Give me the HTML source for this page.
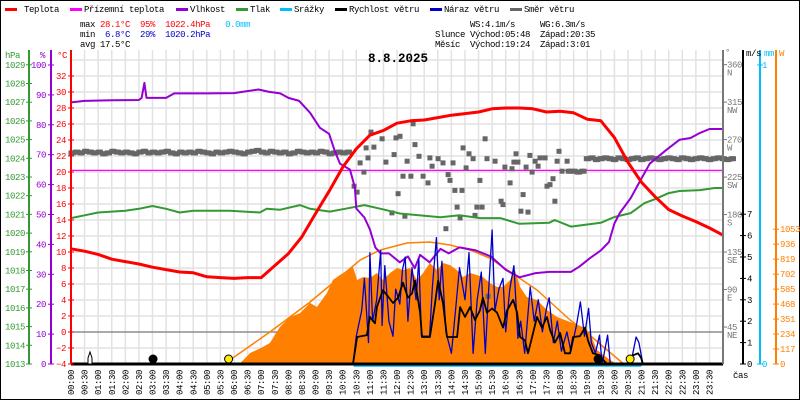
<!DOCTYPE html>
<html><head><meta charset="utf-8"><style>
html,body{margin:0;padding:0;background:#fff}
svg{display:block}
text{font-family:"Liberation Mono",monospace;font-size:9px;letter-spacing:-0.4px}
.pre{white-space:pre}
</style></head><body>
<svg id="chart" width="800" height="400" viewBox="0 0 800 400" xmlns="http://www.w3.org/2000/svg">
<rect x="0.5" y="0.5" width="799" height="399" fill="#fff" stroke="#000"/>
<g id="grid"></g>
<g id="series"></g>
<g id="axes"></g>
<g id="legend">
 <rect x="5" y="8" width="12" height="3" fill="#ff0000"/><text x="24" y="12">Teplota</text>
 <rect x="70" y="8" width="12" height="3" fill="#ff00ff"/><text x="84" y="12">Přízemní teplota</text>
 <rect x="176" y="8" width="12" height="3" fill="#9400d3"/><text x="190" y="12">Vlhkost</text>
 <rect x="236" y="8" width="12" height="3" fill="#339933"/><text x="250" y="12">Tlak</text>
 <rect x="280" y="8" width="12" height="3" fill="#00bfff"/><text x="294" y="12">Srážky</text>
 <rect x="335" y="8" width="12" height="3" fill="#000"/><text x="349" y="12">Rychlost větru</text>
 <rect x="430" y="8" width="12" height="3" fill="#0000cc"/><text x="444" y="12">Náraz větru</text>
 <rect x="510" y="8" width="12" height="3" fill="#666"/><text x="524" y="12">Směr větru</text>
</g>
<g>
 <text class="pre" x="80" y="27">max <tspan fill="#ff0000">28.1°C</tspan>  <tspan fill="#ff0000">95%</tspan>  <tspan fill="#ff0000">1022.4hPa</tspan>   <tspan fill="#00bfff">0.0mm</tspan></text>
 <text class="pre" x="80" y="37">min  <tspan fill="#0000cc">6.8°C</tspan>  <tspan fill="#0000cc">29%</tspan>  <tspan fill="#0000cc">1020.2hPa</tspan></text>
 <text class="pre" x="80" y="47">avg 17.5°C</text>
 <text class="pre" x="470" y="27">WS:4.1m/s     WG:6.3m/s</text>
 <text class="pre" x="435" y="37">Slunce Východ:05:48  Západ:20:35</text>
 <text class="pre" x="435" y="47">Měsíc  Východ:19:24  Západ:3:01</text>
</g>
<text x="398" y="62" text-anchor="middle" style="font-size:12.5px;font-weight:bold;letter-spacing:0">8.8.2025</text>
</svg>
<script>
// ---- data ----
const tempValues=[10.4,10.1,9.7,9.1,8.8,8.5,8.1,7.8,7.5,7.4,6.9,6.8,6.7,6.8,6.8,8.3,9.8,11.9,14.8,17.6,20.6,22.9,24.6,25.2,26.1,26.4,26.5,26.8,27.1,27.3,27.5,27.9,28.0,28.0,27.9,27.5,27.6,27.4,26.6,26.4,24.3,21.2,18.7,16.9,15.3,14.5,13.8,13.0,12.1];
const groundTemp=20.2;
const humTimes=[0,0.5,1.5,2.5,2.6,2.7,2.78,3.5,3.8,5.0,6.0,6.3,6.9,7.3,7.7,8.0,8.4,8.8,9.16,9.5,9.7,9.9,10.27,10.45,10.5,10.8,11,11.2,11.4,11.7,12.1,12.4,12.65,12.85,13.2,13.6,13.9,14.3,14.9,15.45,16.0,16.5,17.1,17.6,18.4,18.7,19.1,19.5,19.8,20.0,20.2,20.6,20.9,21.3,21.9,22.4,22.8,23.15,23.5,24];
const humValues=[87.5,88,88.2,88.3,89,94,89,89,90.5,90.5,90.6,91,91.8,91,90.5,89,88,84,79,77,71.5,67,65,59,52,49,45,39,37,37,34,36,32,36.5,34,38.5,37,39,38,36,31.5,29,30.4,30.8,30.8,32.5,35.4,38,40.8,47,50.5,55.5,60.5,67,71.5,75,75.6,77.3,78.6,78.6];
const presTimes=[0,0.5,1,1.5,2,2.5,3,3.5,4,4.5,5,5.85,6.95,7.2,7.7,8.43,8.8,9.53,10.08,10.8,11.4,12.1,13.6,14.3,15.05,15.8,16.5,17.6,17.8,18.4,19.5,20.0,20.6,21.1,21.5,22.0,22.4,23.15,23.7,24];
const presValues=[1020.8,1020.95,1021.1,1021.15,1021.2,1021.3,1021.45,1021.3,1021.1,1021.2,1021.2,1021.2,1021.1,1021.3,1021.25,1021.5,1021.3,1021.15,1021.3,1021.5,1021.3,1021.05,1020.85,1020.95,1020.8,1020.8,1020.5,1020.55,1020.7,1020.35,1020.55,1020.86,1021.07,1021.6,1021.82,1022.14,1022.25,1022.3,1022.41,1022.41];
const solarTimes=[5.85,6.22,6.59,6.99,7.32,7.69,8.06,8.43,8.8,9.05,9.42,9.64,9.9,10.38,10.53,10.75,11,11.26,11.48,11.74,12,12.22,12.48,12.73,12.96,13.21,13.47,13.69,13.95,14.2,14.43,14.69,14.94,15.16,15.42,15.68,15.9,16.16,16.34,16.53,16.78,17.15,17.52,17.89,18.37,18.84,19.1,19.36,19.84,20.1];
const solarValues=[0,5,86,125,164,289,367,398,477,445,555,656,695,758,656,680,672,711,656,711,750,734,750,656,711,789,734,789,773,734,680,711,695,680,633,602,602,656,734,602,523,500,422,367,328,289,242,109,31,0];
const theoTimes=[5.8,5.85,7.32,8.8,9.9,10.64,11.37,12.37,13.2,13.95,14.7,15.4,15.9,17.15,18.37,19.0,19.6,20.3,20.58];
const theoValues=[0,31,250,484,680,812,890,945,953,930,890,828,758,578,344,242,133,8,0];
const windTimes=[0,10.38,10.53,10.89,11.0,11.19,11.26,11.48,11.67,11.85,12.04,12.22,12.4,12.55,12.66,12.85,12.92,13.21,13.4,13.51,13.69,13.84,14.21,14.32,14.5,14.69,14.87,15.05,15.16,15.31,15.5,15.68,15.9,16.05,16.27,16.42,16.53,16.71,16.82,16.97,17.15,17.33,17.52,17.63,17.81,18.0,18.18,18.37,18.48,18.73,18.92,19.03,19.21,19.47,19.58,19.73,20.57,20.68,20.87,20.98,21.05,24];
const windValues=[0,0,1.26,1.35,2.2,1.9,2.66,3.45,3.15,2.85,3.1,3.8,3.1,3.3,3.9,2.4,1.26,1.26,2.85,3.9,2.85,1.26,1.26,2.66,2.2,2.66,2.05,2.5,3.1,2.4,2.6,2.4,1.7,2.5,3.0,2.4,1.26,1.1,0.5,1.26,2.2,1.7,2.2,1.6,1.0,1.45,0.5,0.5,1.26,1.3,1.7,1.1,0.5,0.4,0.2,0,0,0.4,0.5,0.3,0,0];
const gustTimes=[0,10.38,10.5,10.7,10.8,10.95,11.0,11.1,11.25,11.4,11.45,11.55,11.7,11.85,11.95,12.1,12.2,12.3,12.4,12.55,12.7,12.8,12.9,13.2,13.3,13.45,13.55,13.65,13.8,14.0,14.15,14.3,14.5,14.65,14.8,14.95,15.1,15.25,15.35,15.5,15.6,15.75,15.9,16.0,16.15,16.3,16.45,16.55,16.7,16.9,17.05,17.2,17.35,17.5,17.6,17.75,17.9,18.05,18.25,18.4,18.6,18.75,18.9,19.05,19.15,19.3,19.45,19.55,19.75,19.85,20.6,20.8,20.9,21.05,24];
const gustValues=[0,0,1.3,2.5,4.0,1.0,5.2,2.0,3.0,5.3,1.8,4.6,2.0,1.3,3.5,2.8,4.4,5.0,2.0,4.5,3.0,4.9,1.3,1.3,3.6,5.9,3.0,4.8,1.5,0.5,2.5,4.5,3.0,5.2,0.5,3.0,4.3,0.5,3.0,6.26,2.5,3.5,4.0,1.5,3.5,4.6,1.2,2.0,0.5,3.6,2.0,3.0,1.5,2.6,3.1,1.0,2.0,0.6,1.5,0.6,1.8,2.9,1.3,2.6,1.0,0.5,1.35,0,1.35,0,0,1.26,1.0,0,0];
const dirBand1Start=0, dirBand1Values=[254,255,254,256,255,254,255,253,254,256,255,254,255,254,253,255,256,254,255,254,255,256,254,253,255,254,255,254,256,255,254,253,255,254,255,256,255,254,253,255,256,257,255,254,256,255,254,255,253,254,256,255,254,255,254,256,255,253,254,255,254,255];
const dirBand2Start=18.3, dirBand2Values=[232,232,231,232,247,248,246,247,248,247,246,248,247,246,247,248,246,247,248,247,246,247,248,247,246,248,247,246,247,248,247,246,247,248,247,246,247];
const dirTimes=[11.04,10.86,11.15,11.45,11.96,12.11,12.59,12.66,11.89,11.59,10.64,10.93,12.37,12.81,13.21,13.51,13.69,14.06,13.29,14.54,14.43,14.65,15.24,15.31,10.78,10.42,10.53,12.22,12.51,12.96,13.14,13.88,13.95,12.04,14.13,14.39,15.05,14.21,14.32,14.94,15.13,14.87,13.8,11.81,12.29,14.8,15.61,15.97,16.23,16.38,16.3,16.45,16.75,16.89,16.97,17.08,17.19,17.26,17.45,17.96,17.89,18.26,18.07,16.16,17.74,17.63,17.52,16.64,15.83,15.9,17.81,16.56,16.82,15.35];
const dirValues=[279,260,261,271,272,274,289,264,252,243,242,248,244,250,248,247,242,242,238,236,260,253,271,247,231,214,207,226,226,226,218,228,221,205,209,209,221,189,176,189,189,179,163,182,178,247,244,237,235,253,243,243,237,251,231,244,238,248,248,256,244,244,232,218,223,216,214,204,196,192,196,184,183,82];
const pressTicks=[1013,1014,1015,1016,1017,1018,1019,1020,1021,1022,1023,1024,1025,1026,1027,1028,1029];
const humTicks=[0,10,20,30,40,50,60,70,80,90,100];
const tempTicks=[-4,-2,0,2,4,6,8,10,12,14,16,18,20,22,24,26,28,30,32];
const dirTicks=[45,90,135,180,225,270,315,360];
const dirNames=["NE","E","SE","S","SW","W","NW","N"];
const windTicks=[0,1,2,3,4,5,6,7];
const solarTicks=[0,117,234,351,468,585,702,819,936,1053];

// ---- scales ----
const xH=h=>71+h*27.17;
const yT=t=>364-(t+4)*8;
const yHum=v=>364-v*2.99;
const yP=p=>364-(p-1013)*18.7;
const yDir=d=>364.5-d*0.833;
const yWind=v=>364-v*21.4;
const yW=w=>364-w*0.128;

const NS="http://www.w3.org/2000/svg";
function mk(parent,tag,attrs){const e=document.createElementNS(NS,tag);for(const k in attrs)e.setAttribute(k,attrs[k]);parent.appendChild(e);return e;}
const grid=document.getElementById('grid'),series=document.getElementById('series'),axes=document.getElementById('axes');

for(let i=1;i<=48;i++){const x=xH(i/2);const l=mk(grid,'line',{x1:x,y1:50,x2:x,y2:364,stroke:'#e2e2e2','stroke-width':1.5});

}
for(let t=-2;t<=34;t+=2){const y=yT(t);const l=mk(grid,'line',{x1:71,y1:y,x2:723,y2:y,stroke:t===0?'#777':'#e2e2e2','stroke-width':t===0?1.2:1.5});

}

{let d='M'+xH(solarTimes[0])+',364 ';solarTimes.forEach((t,i)=>{d+='L'+xH(t).toFixed(1)+','+yW(solarValues[i]).toFixed(1)+' ';});d+='L'+xH(solarTimes[solarTimes.length-1])+',364 Z';
const p=mk(series,'path',{d:d,fill:'#ff8000'});

}
function line(times,vals,fy,color,w,name){const pts=times.map((t,i)=>xH(t).toFixed(1)+','+fy(vals[i]).toFixed(1)).join(' ');
const p=mk(series,'polyline',{points:pts,fill:'none',stroke:color,'stroke-width':w,'stroke-linejoin':'round'});

return p;}
line(theoTimes,theoValues,yW,'#ff8000',1.5,'theoretical-solar-line');
{const l=mk(series,'line',{x1:71,y1:yT(groundTemp),x2:723,y2:yT(groundTemp),stroke:'#ff00ff','stroke-width':1.3});

}
function sq(h,d){const r=mk(series,'rect',{x:(xH(h)-2.5).toFixed(1),y:(yDir(d)-2.5).toFixed(1),width:5,height:5,fill:'#666'});

}
dirBand1Values.forEach((d,i)=>{sq(dirBand1Start+i/6,d);sq(dirBand1Start+i/6+1/12,d);});
dirBand2Values.forEach((d,i)=>{sq(dirBand2Start+i/6,d);sq(dirBand2Start+i/6+1/12,d);});
dirTimes.forEach((t,i)=>sq(t,dirValues[i]));
const halfTimes=tempValues.map((v,i)=>i/2);
line(presTimes,presValues,yP,'#339933',2,'pressure-line');
line(humTimes,humValues,yHum,'#9400d3',2,'humidity-line');
line(halfTimes,tempValues,yT,'#ff0000',3,'temperature-line');
line(gustTimes,gustValues,yWind,'#0000cc',1.3,'wind-gust-line');
line(windTimes,windValues,yWind,'#000',1.8,'wind-speed-line');
{const l=mk(series,'line',{x1:xH(10.4),y1:366,x2:xH(21),y2:366,stroke:'#00bfff','stroke-width':1.5});


const b=mk(series,'line',{x1:71,y1:364,x2:723,y2:364,stroke:'#000','stroke-width':3});

}
[[5.8,'#ffee00','sunrise-marker'],[20.58,'#ffee00','sunset-marker'],[3.02,'#000','moonset-marker'],[19.4,'#000','moonrise-marker']].forEach(m=>{
const c=mk(series,'circle',{cx:xH(m[0]),cy:359,r:4,fill:m[1],stroke:'#000','stroke-width':1});

});
{const a=mk(series,'path',{d:'M88,364 L88,358 L90,352 L92,358 L92,364 Z',fill:'#fff',stroke:'#000','stroke-width':1});

}

function vline(x,color,name){const l=mk(axes,'line',{x1:x,y1:50,x2:x,y2:364,stroke:color,'stroke-width':2});

}
function txt(x,y,s,color,anchor,name){const t=mk(axes,'text',{x:x,y:y,fill:color,'text-anchor':anchor||'start'});t.textContent=s;

return t;}
vline(29,'#339933','pressure-axis');vline(51,'#9400d3','humidity-axis');vline(71,'#ff0000','temperature-axis');
vline(723,'#777','direction-axis');vline(743,'#000','wind-axis');vline(760,'#00bfff','rain-axis');vline(776,'#ff8000','solar-axis');
txt(5,58,'hPa','#339933','start','pressure-axis-title');txt(40,58,'%','#9400d3','start','humidity-axis-title');txt(57,58,'°C','#ff0000','start','temperature-axis-title');
txt(725,55,'°','#777','start','direction-axis-title');txt(746,56,'m/s','#000','start','wind-axis-title');txt(764,56,'mm','#00bfff','start','rain-axis-title');txt(779,56,'W','#ff8000','start','solar-axis-title');
pressTicks.forEach(p=>{const y=yP(p);mk(axes,'line',{x1:26,y1:y,x2:32,y2:y,stroke:'#339933'});txt(25,y+3,String(p),'#339933','end','pressure-tick-label');});
humTicks.forEach(h=>{const y=yHum(h);mk(axes,'line',{x1:48,y1:y,x2:54,y2:y,stroke:'#9400d3'});txt(46,y+3,String(h),'#9400d3','end','humidity-tick-label');});
tempTicks.forEach(t=>{const y=yT(t);mk(axes,'line',{x1:68,y1:y,x2:74,y2:y,stroke:'#ff0000'});txt(66,y+3,String(t).replace('-','−'),'#ff0000','end','temperature-tick-label');});
dirTicks.forEach((d,i)=>{const y=yDir(d);mk(axes,'line',{x1:723,y1:y,x2:727,y2:y,stroke:'#777'});txt(727,y+3,String(d),'#777','start','direction-tick-label');txt(727,y+11,dirNames[i],'#777','start','direction-name-label');});
windTicks.forEach(v=>{const y=yWind(v);mk(axes,'line',{x1:740,y1:y,x2:746,y2:y,stroke:'#000'});txt(747,y+3,String(v),'#000','start','wind-tick-label');});
txt(762,367,'0','#00bfff','start','rain-tick-label');txt(762,68,'1','#00bfff','start','rain-tick-label');
mk(axes,'line',{x1:757,y1:364,x2:763,y2:364,stroke:'#00bfff'});mk(axes,'line',{x1:757,y1:65,x2:763,y2:65,stroke:'#00bfff'});
solarTicks.forEach(w=>{const y=yW(w);mk(axes,'line',{x1:773,y1:y,x2:779,y2:y,stroke:'#ff8000'});txt(780,y+3,String(w),'#ff8000','start','solar-tick-label');});
txt(733,378,'čas','#000','start','time-axis-title');
for(let i=0;i<48;i++){const h=Math.floor(i/2),m=i%2?'30':'00';const s=(h<10?'0':'')+h+':'+m;const x=xH(i/2)+3;
const t=mk(axes,'text',{x:0,y:0,transform:'translate('+x.toFixed(1)+',395) rotate(-90)',fill:'#000'});t.textContent=s;

}
</script>
</body></html>
